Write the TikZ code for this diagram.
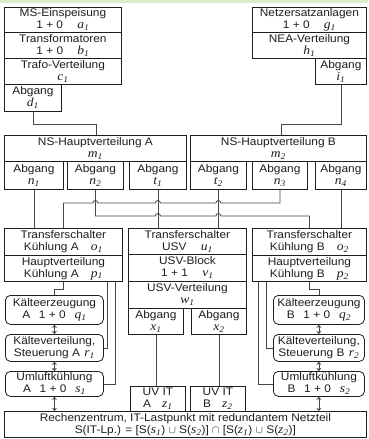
\documentclass[tikz,border=0pt]{standalone}
\usepackage{fontspec}
\setmainfont{Liberation Sans}[FakeStretch=1.08]
\newfontfamily\varfont{Liberation Serif}[FakeStretch=1.1,Scale=1.12]
\usetikzlibrary{arrows.meta,calc}
\definecolor{band}{RGB}{218,238,200}
\definecolor{ink}{RGB}{30,30,30}
\definecolor{wire}{RGB}{70,70,70}
\newcommand\vv[2]{{\varfont\itshape #1\textsubscript{#2}}}
\newcommand\B[7][bx]{\node[#1,minimum width={(#5-#3)*1pt},minimum height={(#6-#4)*1pt}] (#2) at (#3,#4) {#7};}
\tikzset{
  bx/.style={draw=ink,line width=0.8pt,inner sep=0pt,anchor=north west,align=center,
    font=\fontsize{11}{12}\selectfont,text=ink},
  rbx/.style={bx,rounded corners=5pt},
  conn/.style={draw=wire,line width=0.8pt},
  dbl/.style={conn,{Stealth[length=3pt,width=5pt]}-{Stealth[length=3pt,width=5pt]}},
}
\begin{document}
\begin{tikzpicture}[x=1pt,y=-1pt]
\useasboundingbox (0,0) rectangle (368,439);
\fill[white] (0,0) rectangle (368,439);
\fill[band] (0,0) rectangle (368,3);
% top left
\B{a1}{4}{7}{121}{32}{MS-Einspeisung\\1 + 0\hspace{1.3em}\vv{a}{1}}
\B{b1}{4}{32}{121}{58}{Transformatoren\\1 + 0\hspace{1.3em}\vv{b}{1}}
\B{c1}{4}{58}{121}{84}{Trafo-Verteilung\\\vv{c}{1}}
\B{d1}{4}{84}{61}{111}{Abgang\\\vv{d}{1}}
% top right
\B{g1}{252}{7}{366}{32}{Netzersatzanlagen\\1 + 0\hspace{1.3em}\vv{g}{1}}
\B{h1}{252}{32}{366}{58}{NEA-Verteilung\\\vv{h}{1}}
\B{i1}{315}{58}{366}{84}{Abgang\\\vv{i}{1}}
% NS main distributions
\B{m1}{4}{135}{186}{161}{NS-Hauptverteilung A\\\vv{m}{1}}
\B{n1}{4}{161}{63}{189}{Abgang\\\vv{n}{1}}
\B{n2}{67}{161}{123}{189}{Abgang\\\vv{n}{2}}
\B{t1}{129}{161}{186}{189}{Abgang\\\vv{t}{1}}
\B{m2}{190}{135}{366}{161}{NS-Hauptverteilung B\\\vv{m}{2}}
\B{t2}{190}{161}{246}{189}{Abgang\\\vv{t}{2}}
\B{n3}{252}{161}{307}{189}{Abgang\\\vv{n}{3}}
\B{n4}{315}{161}{366}{189}{Abgang\\\vv{n}{4}}
% cooling A
\B{o1}{4}{228}{122}{255}{Transferschalter\\Kühlung A\hspace{1.1em}\vv{o}{1}}
\B{p1}{4}{255}{122}{281}{Hauptverteilung\\Kühlung A\hspace{1.1em}\vv{p}{1}}
\B[rbx]{q1}{5}{295}{103}{324}{Kälteerzeugung\\A\hspace{0.8em}1 + 0\hspace{0.8em}\vv{q}{1}}
\B[rbx]{r1}{5}{334}{103}{361}{Kälteverteilung,\\Steuerung A\hspace{0.4em}\vv{r}{1}}
\B[rbx]{s1}{5}{371}{103}{396}{Umluftkühlung\\A\hspace{0.8em}1 + 0\hspace{0.8em}\vv{s}{1}}
% UPS
\B{u1}{128}{228}{246}{254}{Transferschalter\\USV\hspace{1.3em}\vv{u}{1}}
\B{v1}{128}{254}{246}{281}{USV-Block\\1 + 1\hspace{1.3em}\vv{v}{1}}
\B{w1}{128}{281}{246}{308}{USV-Verteilung\\\vv{w}{1}}
\B{x1}{128}{308}{183}{334}{Abgang\\\vv{x}{1}}
\B{x2}{191}{308}{246}{334}{Abgang\\\vv{x}{2}}
\B{z1}{130}{386}{185}{411}{UV IT\\A\hspace{1em}\vv{z}{1}}
\B{z2}{190}{386}{245}{411}{UV IT\\B\hspace{1em}\vv{z}{2}}
% cooling B
\B{o2}{252}{228}{366}{255}{Transferschalter\\Kühlung B\hspace{1.1em}\vv{o}{2}}
\B{p2}{252}{255}{366}{281}{Hauptverteilung\\Kühlung B\hspace{1.1em}\vv{p}{2}}
\B[rbx]{q2}{273}{295}{364}{324}{Kälteerzeugung\\B\hspace{0.8em}1 + 0\hspace{0.8em}\vv{q}{2}}
\B[rbx]{r2}{273}{334}{364}{361}{Kälteverteilung,\\Steuerung B\hspace{0.4em}\vv{r}{2}}
\B[rbx]{s2}{273}{371}{364}{396}{Umluftkühlung\\B\hspace{0.8em}1 + 0\hspace{0.8em}\vv{s}{2}}
% data centre
\B{rz}{4}{411}{366}{437}{Rechenzentrum, IT-Lastpunkt mit redundantem Netzteil\\S(IT-Lp.) = [S(\vv{s}{1}) $\cup$ S(\vv{s}{2})] $\cap$ [S(\vv{z}{1}) $\cup$ S(\vv{z}{2})]}
% feeders
\coordinate (kA) at (96,124);
\coordinate (kB) at (281,124);
\draw[conn] (d1.south) |- (kA) -- (kA |- m1.north);
\draw[conn] (i1.south) |- (kB) -- (kB |- m2.north);
% cross connections
\coordinate (hA) at (0,203);
\coordinate (hB) at (0,216);
\draw[conn] (n1.south) -- (n1.south |- o1.north);
\draw[conn] (t1.south) -- (t1.south |- u1.north);
\draw[conn] (t2.south) -- (t2.south |- u1.north);
\draw[conn] (n4.south) -- (n4.south |- o2.north);
\draw[conn] (o1.north) -- (o1.north |- hA)
  -- ($(n2.south |- hA)+(-2.5,0)$) arc[start angle=180,end angle=360,radius=2.5]
  -- ($(t1.south |- hA)+(-2.5,0)$) arc[start angle=180,end angle=360,radius=2.5]
  -- ($(t2.south |- hA)+(-2.5,0)$) arc[start angle=180,end angle=360,radius=2.5]
  -- (n3.south |- hA) -- (n3.south);
\draw[conn] (n2.south) -- (n2.south |- hB)
  -- ($(t1.south |- hB)+(-2.5,0)$) arc[start angle=180,end angle=360,radius=2.5]
  -- ($(t2.south |- hB)+(-2.5,0)$) arc[start angle=180,end angle=360,radius=2.5]
  -- (o2.north |- hB) -- (o2.north);
% UPS outputs
\draw[conn] (x1.south) -- (x1.south |- z1.north);
\draw[conn] (x2.south) -- (x2.south |- z2.north);
% cooling A wiring
\draw[conn] (p1.south) -- ++(0,8) -| (q1.north);
\draw[conn] ($(p1.south west)+(103,0)$) |- (r1.east);
\draw[conn] ($(p1.south west)+(111,0)$) |- (s1.east);
\draw[dbl] (q1.south) -- (r1.north);
\draw[dbl] (r1.south) -- (s1.north);
\draw[dbl] (s1.south) -- (s1.south |- rz.north);
% cooling B wiring
\draw[conn] (p2.south) -- ++(0,8) -| (q2.north);
\draw[conn] ($(p2.south west)+(14,0)$) |- (r2.west);
\draw[conn] ($(p2.south west)+(6,0)$) |- (s2.west);
\draw[dbl] (q2.south) -- (r2.north);
\draw[dbl] (r2.south) -- (s2.north);
\draw[dbl] (s2.south) -- (s2.south |- rz.north);
\end{tikzpicture}
\end{document}
